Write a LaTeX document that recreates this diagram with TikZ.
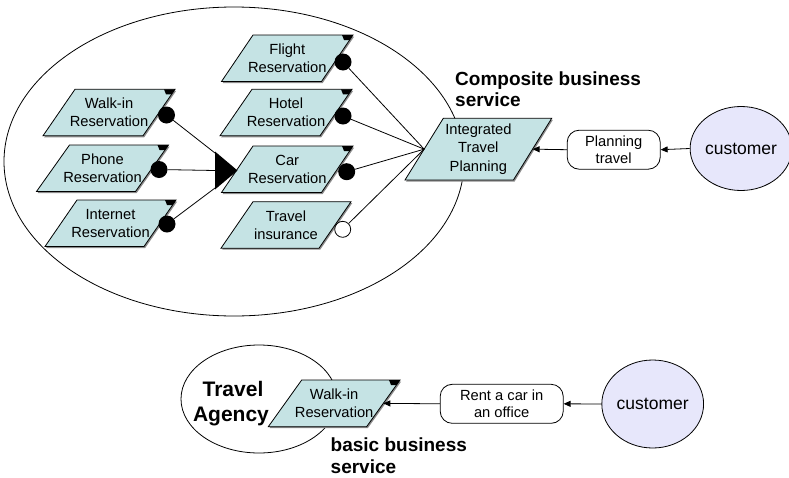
\documentclass[tikz,border=0pt]{standalone}
\usepackage{fontspec}
\setmainfont{Liberation Sans}
\usetikzlibrary{shapes.geometric,arrows.meta,calc}
\definecolor{pfill}{RGB}{197,227,228}
\definecolor{cfill}{RGB}{231,231,251}
\tikzset{
  pline/.style={draw=black, line width=0.8pt, fill=pfill, line join=miter},
  pshadow/.style={fill=black!45},
  ptext/.style={font=\fontsize{14.7}{17.7}\selectfont, align=center, inner sep=0pt},
  bdot/.style={circle, fill=black, minimum size=17pt, inner sep=0pt},
  wdot/.style={circle, draw=black, fill=white, line width=0.8pt, minimum size=16pt, inner sep=0pt},
  conn/.style={line width=0.8pt},
  arr/.style={line width=0.8pt, -{Triangle[length=7pt,width=6pt]}},
  pill/.style={draw, line width=0.8pt, rounded corners=12pt, fill=white, minimum height=39pt, inner sep=0pt, align=center, font=\fontsize{14.7}{17}\selectfont},
  cust/.style={ellipse, draw, line width=0.8pt, fill=cfill, inner sep=0pt, font=\fontsize{17.5}{20}\selectfont},
  boldlbl/.style={font=\fontsize{19}{21.5}\selectfont\bfseries, inner sep=0pt},
  agencylbl/.style={font=\fontsize{21}{24}\selectfont\bfseries, inner sep=0pt},
  grp/.style={ellipse, draw, line width=0.8pt, inner sep=0pt},
}
% name, tlx, tly, width, height, slant, text, extra style
\newcommand\parl[8]{%
  \fill[pshadow] ({#2+1.2},{#3+1.5}) -- ({#2+#4+1.2},{#3+1.5}) -- ({#2+#4-#6+1.2},{#3+#5+1.5}) -- ({#2-#6+1.2},{#3+#5+1.5}) -- cycle;
  \draw[pline] (#2,#3) -- ({#2+#4},#3) -- ({#2+#4-#6},{#3+#5}) -- ({#2-#6},{#3+#5}) -- cycle;
  \node[ptext,#8] (#1) at ({#2+(#4-#6)/2},{#3+#5/2}) {#7};
  \coordinate (#1-e) at ({#2+#4-#6/2},{#3+#5/2});
  \coordinate (#1-w) at ({#2-#6/2},{#3+#5/2});
  \coordinate (#1-tr) at ({#2+#4},#3);
}
\newcommand\ptab[1]{\fill ($(#1-tr)+(-11,0)$) -- (#1-tr) -- ($(#1-tr)+(-3.4,5)$) -- ($(#1-tr)+(-9,5)$) -- cycle;}
\begin{document}
\begin{tikzpicture}[x=1pt,y=-1pt]
\useasboundingbox (0,0) rectangle (789,477);
\fill[white] (0,0) rectangle (789,477);

% group ellipses
\node[grp, minimum width=460pt, minimum height=309pt] (big) at (234,161.5) {};
\node[grp, minimum width=156pt, minimum height=108pt] (agency) at (259,399) {};

% parallelograms
\parl{walk}{75}{89.3}{100}{46.5}{32}{Walk-in\\Reservation}{}
\ptab{walk}
\parl{phone}{69.5}{145}{99}{46.5}{33}{Phone\\Reservation}{}
\ptab{phone}
\parl{inet}{77}{200}{99}{46.5}{32}{Internet\\Reservation}{}
\ptab{inet}
\parl{flight}{253}{35}{100}{46.5}{31.5}{Flight\\Reservation}{}
\ptab{flight}
\parl{hotel}{252}{89.3}{100}{46.5}{32}{Hotel\\Reservation}{}
\ptab{hotel}
\parl{car}{253}{146}{100}{46.5}{31.5}{Car\\Reservation}{}
\ptab{car}
\parl{ins}{253}{201.7}{98}{46.5}{32}{Travel\\insurance}{}
\parl{itp}{443.3}{118.3}{108.4}{61.7}{38.3}{Integrated\\Travel\\Planning}{font=\fontsize{14.7}{18.3}\selectfont}
\parl{bwalk}{301.7}{380}{98.3}{46.7}{33.4}{Walk-in\\Reservation}{}
\ptab{bwalk}

% triangle (merge)
\fill (215,151.5) -- (215,189.5) -- (237.5,170.5) -- cycle;
\coordinate (tri-t) at (215,153);
\coordinate (tri-m) at (215,170.5);
\coordinate (tri-b) at (215,188);

% connector dots
\node[bdot] (walkc) at ($(walk-tr)+(-8.5,25.7)$) {};
\node[bdot] (phonec) at ($(phone-tr)+(-9.5,24.5)$) {};
\node[bdot] (inetc) at ($(inet-tr)+(-9,24)$) {};
\node[bdot] (flightc) at ($(flight-tr)+(-10,27)$) {};
\node[bdot] (hotelc) at ($(hotel-tr)+(-9,26.7)$) {};
\node[bdot] (carc) at ($(car-tr)+(-6.3,25.7)$) {};
\node[wdot] (insc) at ($(ins-tr)+(-8.3,27.6)$) {};

\draw[conn] (walkc) -- (tri-t);
\draw[conn] (phonec) -- (tri-m);
\draw[conn] (inetc) -- (tri-b);
\draw[conn] (flightc) -- (itp-w);
\draw[conn] (hotelc) -- (itp-w);
\draw[conn] (carc) -- (itp-w);
\draw[conn] (insc) -- (itp-w);

% customers and interactions
\node[pill, minimum width=93pt] (plan) at (613.7,149.7) {Planning\\travel};
\node[cust, minimum width=97pt, minimum height=84pt] (cust1) at (741,148.5) {customer};
\node[pill, minimum width=123pt] (rent) at (501.7,403.8) {Rent a car in\\an office};
\node[cust, minimum width=100pt, minimum height=88pt] (cust2) at (652.7,404) {customer};

\draw[arr] (cust1.west) -- (plan.east);
\draw[arr] (plan.west) -- (itp-e);
\draw[arr] (cust2.west) -- (rent.east);
\draw[arr] (rent.west) -- (bwalk-e);

% labels
\node[boldlbl, anchor=base west] (comp1) at (455,85) {Composite business};
\node[boldlbl, anchor=base west] (comp2) at (455,106.5) {service};
\node[agencylbl, anchor=base] (ag1) at (233,396.7) {Travel};
\node[agencylbl, anchor=base] (ag2) at (231,421) {Agency};
\node[boldlbl, anchor=base west] (bas1) at (330.5,451.5) {basic business};
\node[boldlbl, anchor=base west] (bas2) at (330.5,473) {service};
\end{tikzpicture}
\end{document}
